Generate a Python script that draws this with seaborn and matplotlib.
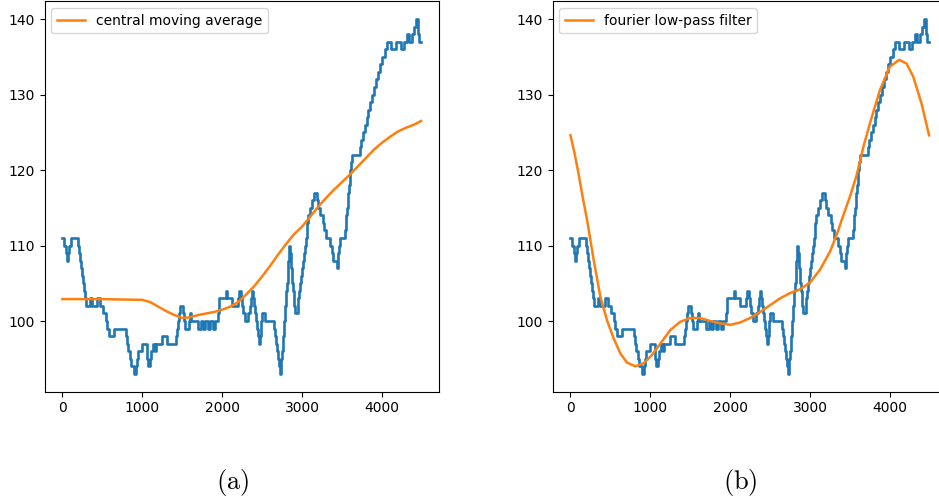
import matplotlib
matplotlib.use("Agg")
import matplotlib.pyplot as plt
import seaborn as sns
import pandas as pd

# ---- data ----
# blue series: x where each level starts, and the level (drawn as steps)
blue_x = [0, 25, 45, 55, 75, 85, 110, 190, 205, 220, 235, 250, 262, 275, 288, 300,
          345, 365, 435, 475, 510, 545, 560, 585, 640, 790, 805, 820, 840, 860, 895,
          915, 935, 950, 1000, 1055, 1065, 1075, 1095, 1105, 1130, 1160, 1175, 1245,
          1310, 1420, 1435, 1450, 1460, 1470, 1510, 1525, 1537, 1590, 1600, 1615,
          1700, 1730, 1760, 1790, 1820, 1850, 1880, 1910, 1937, 1945, 1955, 1965,
          2050, 2065, 2120, 2200, 2212, 2240, 2250, 2262, 2290, 2320, 2345, 2360,
          2370, 2390, 2400, 2415, 2425, 2435, 2445, 2455, 2470, 2480, 2490, 2500,
          2540, 2650, 2665, 2680, 2690, 2700, 2710, 2720, 2735, 2742, 2749, 2756,
          2763, 2770, 2777, 2784, 2791, 2798, 2805, 2812, 2818, 2824, 2829, 2834,
          2838, 2848, 2856, 2864, 2872, 2880, 2888, 2896, 2904, 2912, 2946, 2955,
          2968, 2980, 2992, 3004, 3015, 3026, 3037, 3047, 3056, 3066, 3080, 3100,
          3125, 3150, 3190, 3205, 3225, 3262, 3280, 3295, 3355, 3370, 3385, 3435,
          3448, 3456, 3464, 3472, 3540, 3548, 3556, 3564, 3572, 3580, 3588, 3596,
          3604, 3612, 3620, 3720, 3742, 3764, 3786, 3808, 3830, 3852, 3875, 3900,
          3925, 3950, 3975, 4005, 4035, 4060, 4110, 4170, 4245, 4275, 4310, 4340,
          4375, 4400, 4425, 4455, 4470, 4490]
blue_y = [111, 110, 109, 108, 109, 110, 111, 110, 109, 108, 107, 106, 105, 104, 103, 102,
          103, 102, 103, 102, 101, 100, 99, 98, 99, 98, 97, 96, 95, 94, 93,
          94, 95, 96, 97, 96, 95, 94, 95, 96, 97, 96, 97, 98,
          97, 98, 99, 100, 101, 102, 101, 100, 99, 100, 101, 100,
          99, 100, 99, 100, 99, 100, 99, 100, 100, 101, 102, 103,
          104, 103, 102, 103, 104, 103, 102, 101, 100, 101, 102, 103,
          104, 103, 102, 101, 100, 99, 98, 97, 98, 99, 100, 101,
          100, 99, 98, 97, 96, 95, 94, 93, 94, 95, 96, 97,
          98, 99, 100, 101, 102, 103, 104, 105, 106, 107, 108, 109,
          110, 109, 108, 107, 106, 105, 104, 103, 102, 101, 102, 103,
          104, 105, 106, 107, 108, 109, 110, 111, 112, 113, 114, 115,
          116, 117, 116, 115, 114, 113, 112, 111, 110, 109, 108, 107,
          108, 109, 110, 111, 112, 113, 114, 115, 116, 117, 118, 119,
          120, 121, 122, 123, 124, 125, 126, 127, 128, 129, 130, 131,
          132, 133, 134, 135, 136, 137, 136, 137, 136, 137, 138, 137,
          138, 139, 140, 138, 137, 137]

# orange, panel (a): central moving average
cma_x = [0, 500, 1000, 1100, 1200, 1300, 1400, 1500, 1600, 1700, 1800, 1900, 2000,
         2100, 2200, 2300, 2400, 2500, 2600, 2700, 2800, 2900, 3000, 3100, 3200,
         3300, 3400, 3500, 3600, 3700, 3800, 3900, 4000, 4100, 4200, 4300, 4400, 4490]
cma_y = [102.9, 102.9, 102.8, 102.5, 101.9, 101.3, 100.8, 100.4, 100.5, 100.8, 101.0,
         101.2, 101.5, 101.9, 102.5, 103.5, 104.6, 105.9, 107.3, 108.8, 110.2, 111.5,
         112.5, 113.8, 115.1, 116.3, 117.4, 118.4, 119.4, 120.5, 121.6, 122.7, 123.6,
         124.4, 125.1, 125.6, 126.0, 126.5]

# orange, panel (b): fourier low-pass filter
flp_x = [0, 50, 100, 150, 208, 291, 375, 458, 541, 625, 708, 812, 916, 1021, 1125, 1250,
         1375, 1500, 1625, 1750, 1875, 2000, 2125, 2250, 2375, 2500, 2625, 2750, 2875,
         3000, 3125, 3250, 3333, 3416, 3500, 3583, 3666, 3750, 3875, 4000, 4116, 4208,
         4291, 4396, 4490]
flp_y = [124.6, 122.3, 119.6, 116.6, 113.4, 108.1, 103.2, 100.1, 97.7, 95.7, 94.5, 94.0,
         94.4, 95.5, 97.0, 98.8, 99.9, 100.4, 100.4, 100.0, 99.7, 99.5, 99.8, 100.4,
         101.2, 102.1, 103.0, 103.7, 104.2, 105.1, 106.8, 109.2, 111.4, 114.0, 116.5,
         119.3, 123.0, 126.2, 130.6, 133.7, 134.6, 134.1, 132.4, 128.8, 124.6]

labels = ["central moving average", "fourier low-pass filter"]
captions = ["(a)", "(b)"]

blue = pd.DataFrame({"x": blue_x, "y": blue_y})
smooth = [pd.DataFrame({"x": cma_x, "y": cma_y}), pd.DataFrame({"x": flp_x, "y": flp_y})]

W, H = 939, 504
fig = plt.figure(figsize=(W / 100, H / 100), dpi=100)
ax_w = 394.5 / W
ax_b = 1 - 391.6 / H
ax_h = (391.6 - 1.3) / H
lefts = [44.5 / W, 552.5 / W]
cap_x = [233 / W, 740 / W]

for i in range(2):
    ax = fig.add_axes([lefts[i], ax_b, ax_w, ax_h])
    sns.lineplot(data=blue, x="x", y="y", ax=ax, color="#1f77b4", linewidth=1.9,
                 drawstyle="steps-post", estimator=None, sort=False, legend=False)
    sns.lineplot(data=smooth[i], x="x", y="y", ax=ax, color="#ff7f0e", linewidth=1.8,
                 estimator=None, sort=False, label=labels[i])
    ax.set_xlabel("")
    ax.set_ylabel("")
    ax.legend(loc="upper left", fontsize=10)
    ax.set_xticks([0, 1000, 2000, 3000, 4000])
    ax.set_yticks([100, 110, 120, 130, 140])
    fig.text(cap_x[i], 1 - 483 / H, r"$\mathrm{" + captions[i] + "}$", fontsize=19,
             math_fontfamily="cm", ha="center", va="center")

fig.savefig("out.png", dpi=100)
